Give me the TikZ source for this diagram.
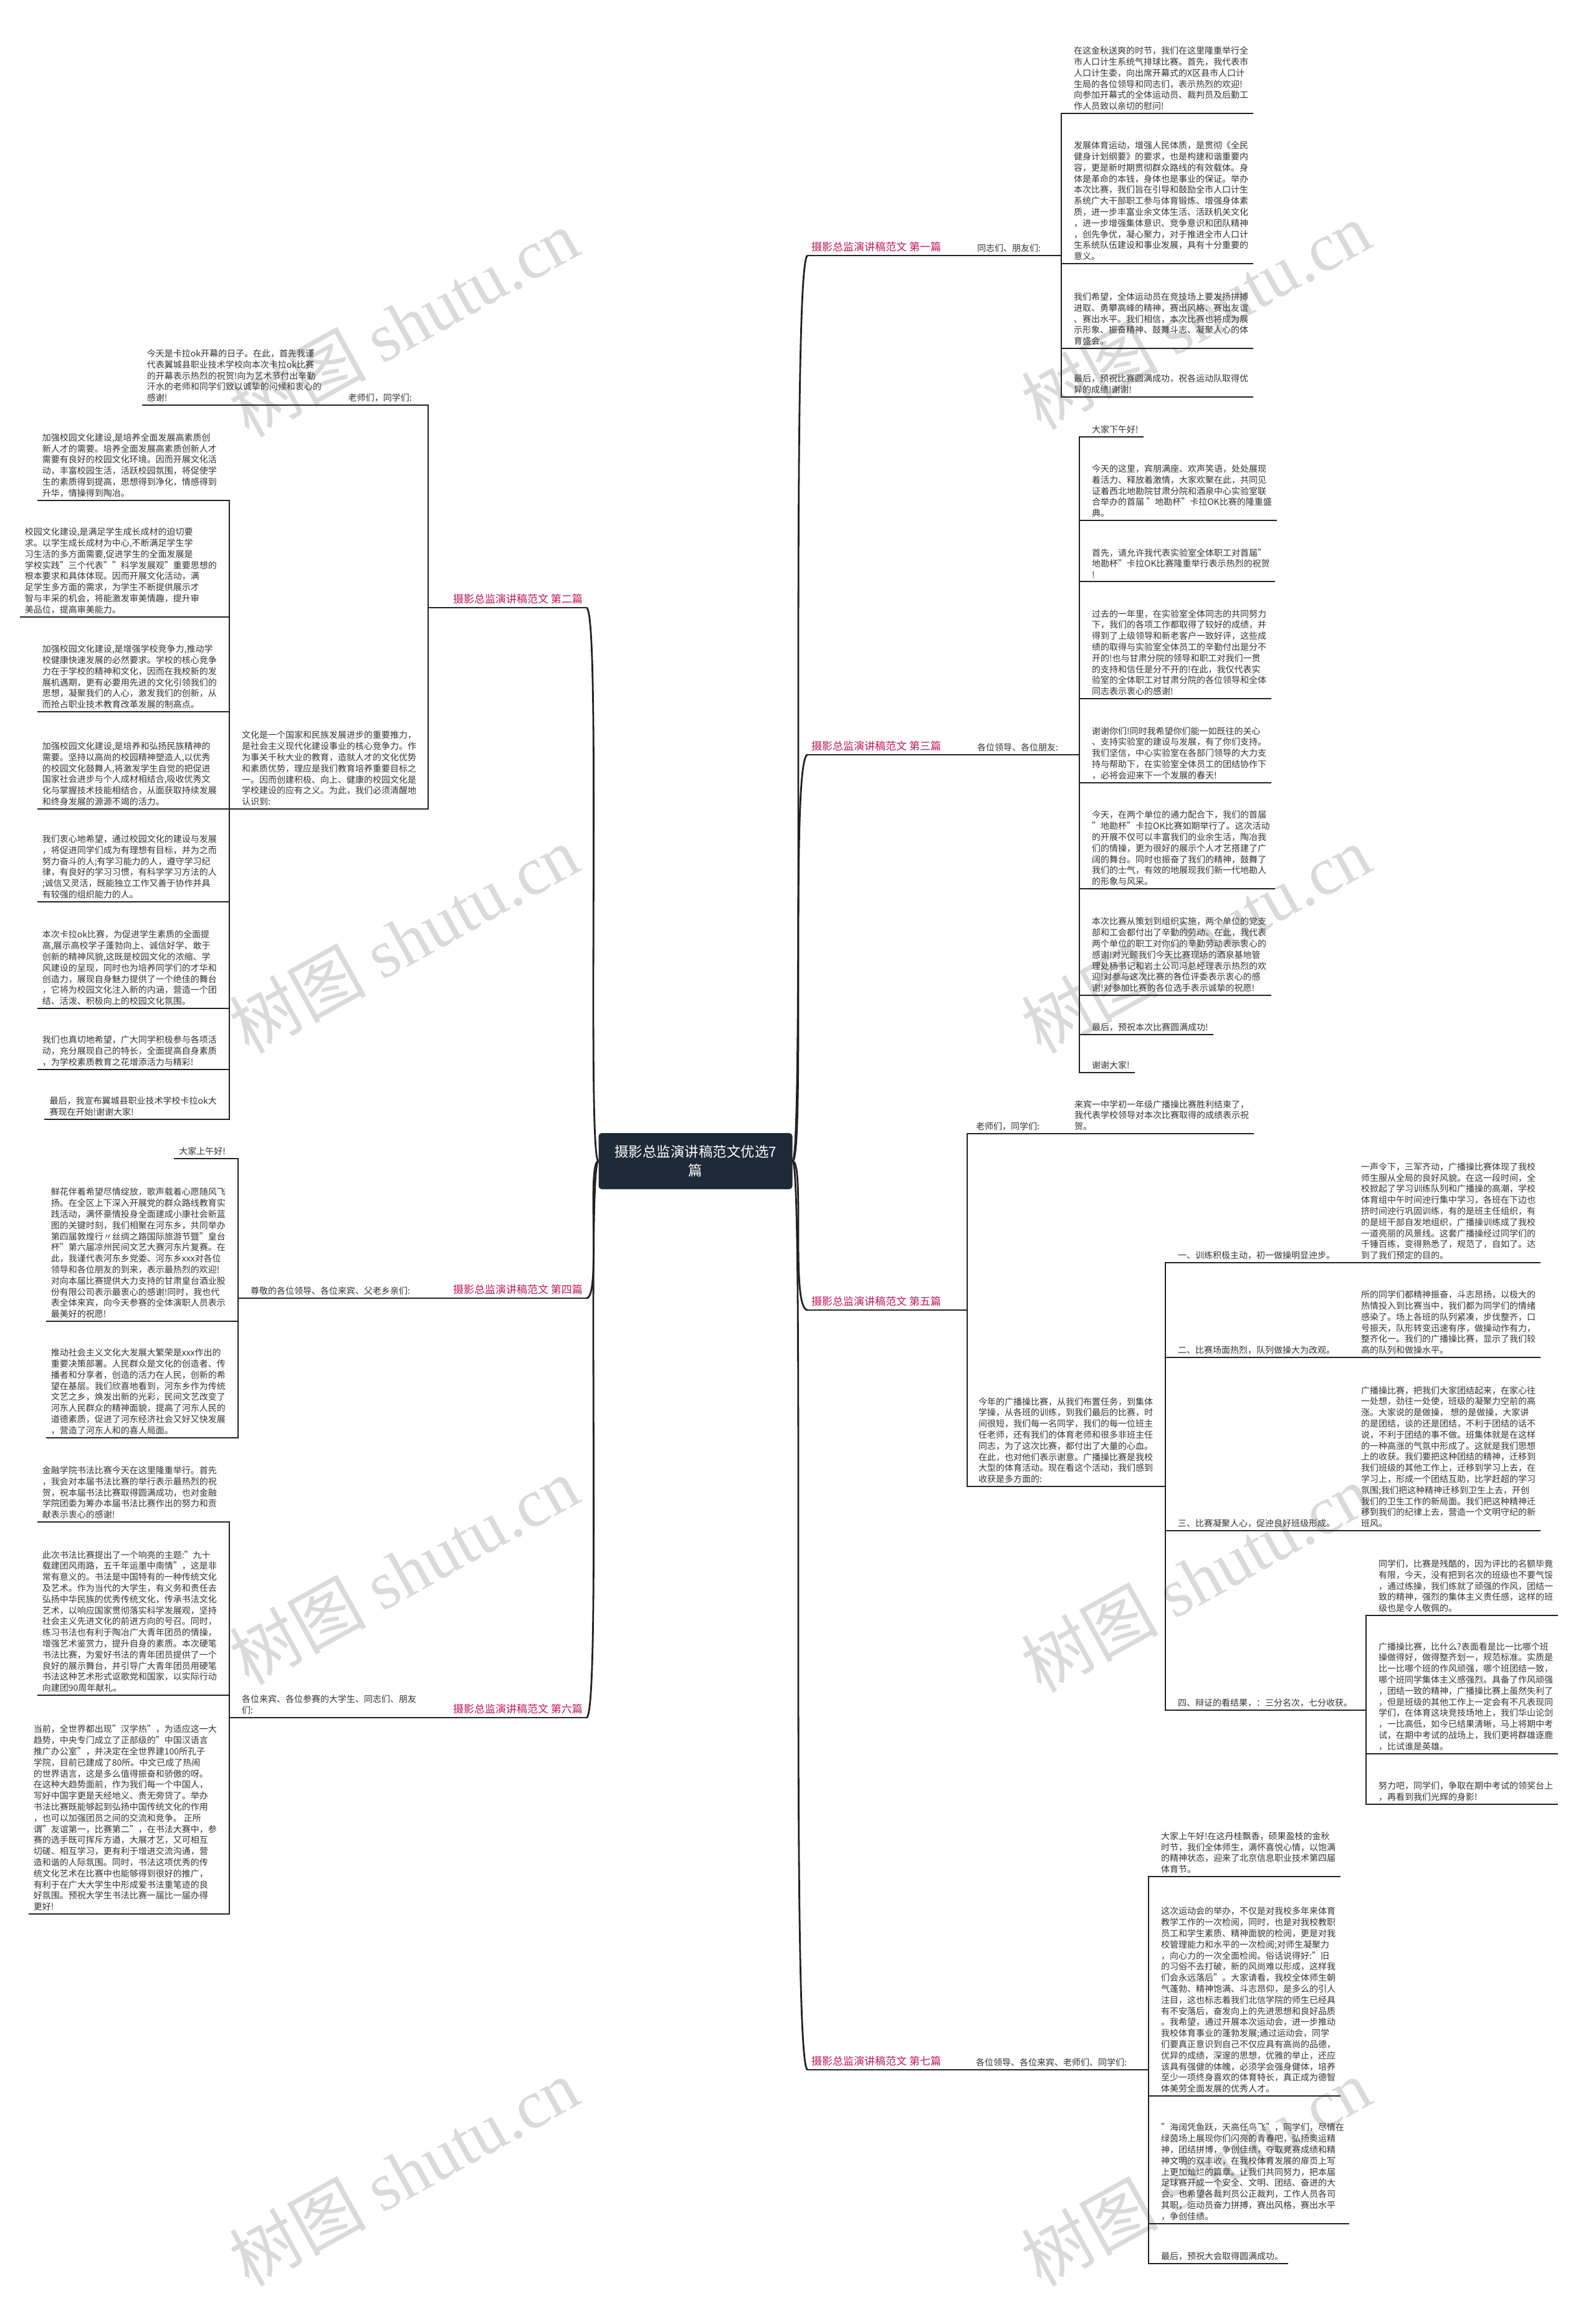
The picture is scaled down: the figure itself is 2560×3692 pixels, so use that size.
\documentclass[tikz,border=0pt]{standalone}
\usepackage{fontspec}
\setmainfont{Noto Sans CJK SC}
\newfontfamily\wmlatin{Liberation Serif}
\definecolor{txt}{HTML}{333333}
\definecolor{ln}{HTML}{222222}
\definecolor{lblc}{HTML}{C2185B}
\definecolor{ctr}{HTML}{1E2A38}
\definecolor{wmc}{HTML}{DADADA}
\newcommand\mapfs{\fontsize{14}{17.8}\selectfont}
\newcommand\maplf{\fontsize{17}{20}\selectfont}
\newcommand\mapcf{\fontsize{22.5}{30}\selectfont}
\newcommand\mapwf{\fontsize{110}{120}\selectfont}
\tikzset{
  leaf/.style={font=\mapfs, text=txt, align=left, inner xsep=8pt, inner ysep=5pt},
  lbl/.style={font=\maplf, text=lblc, inner xsep=6pt, inner ysep=6pt},
  conn/.style={draw=ln, line width=2.2pt},
  brc/.style={draw=ln, line width=2.8pt},
  uline/.style={draw=ln, line width=2.2pt},
  ctrnode/.style={fill=ctr, text=white, font=\mapcf, align=center, rounded corners=5pt, minimum width=311pt, minimum height=90pt},
  wmark/.style={text=wmc, font=\mapwf, rotate=29, inner sep=0pt},
}
\begin{document}
\begin{tikzpicture}[x=1pt, y=-1pt]
\useasboundingbox (0,0) rectangle (2560,3692);
\fill[white] (0,0) rectangle (2560,3692);
% watermarks
\foreach \wx/\wy [count=\i] in {648/518, 1919/506, 648/1507, 1919/1507, 648/2520, 1919/2532, 648/3485, 1919/3485}
  \node[wmark] (wm\i) at (\wx,\wy) {树图 {\wmlatin shutu.cn}};

% center
\node[ctrnode] (C) at (1116,1863) {摄影总监演讲稿范文优选7\\篇};

% ===== labels =====
\node[lbl, anchor=south west] (L1) at (1296,410) {摄影总监演讲稿范文 第一篇};
\node[lbl, anchor=south west] (L3) at (1296,1211) {摄影总监演讲稿范文 第三篇};
\node[lbl, anchor=south west] (L5) at (1296,2102) {摄影总监演讲稿范文 第五篇};
\node[lbl, anchor=south west] (L7) at (1296,3321) {摄影总监演讲稿范文 第七篇};
\node[lbl, anchor=south east] (L2) at (941,975) {摄影总监演讲稿范文 第二篇};
\node[lbl, anchor=south east] (L4) at (941,2083) {摄影总监演讲稿范文 第四篇};
\node[lbl, anchor=south east] (L6) at (941,2756) {摄影总监演讲稿范文 第六篇};

% ===== B1 =====
\node[leaf, anchor=south west] (p1) at (1560,410) {同志们、朋友们:};
\coordinate (j1) at (1703,410);
\node[leaf, anchor=south west] (b11) at (1715,182) {在这金秋送爽的时节，我们在这里隆重举行全\\市人口计生系统气排球比赛。首先，我代表市\\人口计生委，向出席开幕式的X区县市人口计\\生局的各位领导和同志们，表示热烈的欢迎!\\向参加开幕式的全体运动员、裁判员及后勤工\\作人员致以亲切的慰问!};
\node[leaf, anchor=south west] (b12) at (1715,423) {发展体育运动，增强人民体质，是贯彻《全民\\健身计划纲要》的要求，也是构建和谐重要内\\容，更是新时期贯彻群众路线的有效载体。身\\体是革命的本钱，身体也是事业的保证。举办\\本次比赛，我们旨在引导和鼓励全市人口计生\\系统广大干部职工参与体育锻炼、增强身体素\\质，进一步丰富业余文体生活、活跃机关文化\\，进一步增强集体意识、竞争意识和团队精神\\，创先争优，凝心聚力，对于推进全市人口计\\生系统队伍建设和事业发展，具有十分重要的\\意义。};
\node[leaf, anchor=south west] (b13) at (1715,559) {我们希望，全体运动员在竞技场上要发扬拼搏\\进取、勇攀高峰的精神，赛出风格、赛出友谊\\、赛出水平。我们相信，本次比赛也将成为展\\示形象、振奋精神、鼓舞斗志、凝聚人心的体\\育盛会。};
\node[leaf, anchor=south west] (b14) at (1715,637) {最后，预祝比赛圆满成功，祝各运动队取得优\\异的成绩!谢谢!};

% ===== B3 =====
\node[leaf, anchor=south west] (p3) at (1560,1211) {各位领导、各位朋友:};
\coordinate (j3) at (1732,1211);
\node[leaf, anchor=south west] (b31) at (1744,701) {大家下午好!};
\node[leaf, anchor=south west] (b32) at (1744,835) {今天的这里，宾朋满座、欢声笑语，处处展现\\着活力、释放着激情，大家欢聚在此，共同见\\证着西北地勘院甘肃分院和酒泉中心实验室联\\合举办的首届 "地勘杯"卡拉OK比赛的隆重盛\\典。};
\node[leaf, anchor=south west] (b33) at (1744,933) {首先，请允许我代表实验室全体职工对首届"\\地勘杯"卡拉OK比赛隆重举行表示热烈的祝贺\\!};
\node[leaf, anchor=south west] (b34) at (1744,1121) {过去的一年里，在实验室全体同志的共同努力\\下，我们的各项工作都取得了较好的成绩，并\\得到了上级领导和新老客户一致好评，这些成\\绩的取得与实验室全体员工的辛勤付出是分不\\开的!也与甘肃分院的领导和职工对我们一贯\\的支持和信任是分不开的!在此，我仅代表实\\验室的全体职工对甘肃分院的各位领导和全体\\同志表示衷心的感谢!};
\node[leaf, anchor=south west] (b35) at (1744,1256) {谢谢你们!同时我希望你们能一如既往的关心\\、支持实验室的建设与发展，有了你们支持。\\我们坚信，中心实验室在各部门领导的大力支\\持与帮助下，在实验室全体员工的团结协作下\\，必将会迎来下一个发展的春天!};
\node[leaf, anchor=south west] (b36) at (1744,1426) {今天，在两个单位的通力配合下，我们的首届\\"地勘杯"卡拉OK比赛如期举行了。这次活动\\的开展不仅可以丰富我们的业余生活，陶冶我\\们的情操，更为很好的展示个人才艺搭建了广\\阔的舞台。同时也振奋了我们的精神，鼓舞了\\我们的士气，有效的地展现我们新一代地勘人\\的形象与风采。};
\node[leaf, anchor=south west] (b37) at (1744,1597) {本次比赛从策划到组织实施，两个单位的党支\\部和工会都付出了辛勤的劳动。在此，我代表\\两个单位的职工对你们的辛勤劳动表示衷心的\\感谢!对光顾我们今天比赛现场的酒泉基地管\\理处杨书记和岩土公司冯总经理表示热烈的欢\\迎!对参与这次比赛的各位评委表示衷心的感\\谢!对参加比赛的各位选手表示诚挚的祝愿!};
\node[leaf, anchor=south west] (b38) at (1744,1660) {最后，预祝本次比赛圆满成功!};
\node[leaf, anchor=south west] (b39) at (1744,1721) {谢谢大家!};

% ===== B5 =====
\coordinate (j5) at (1552,2102);
\node[leaf, anchor=south west] (n5a) at (1558,1819) {老师们，同学们:};
\node[leaf, anchor=south west] (n5a1) at (1716,1819) {来宾一中学初一年级广播操比赛胜利结束了，\\我代表学校领导对本次比赛取得的成绩表示祝\\贺。};
\node[leaf, anchor=south west] (n5b) at (1562,2385) {今年的广播操比赛，从我们布置任务，到集体\\学操，从各班的训练，到我们最后的比赛，时\\间很短，我们每一名同学，我们的每一位班主\\任老师，还有我们的体育老师和很多非班主任\\同志，为了这次比赛，都付出了大量的心血。\\在此，也对他们表示谢意。广播操比赛是我校\\大型的体育活动。现在看这个活动，我们感到\\收获是多方面的:};
\coordinate (j5b) at (1870,2385);
\node[leaf, anchor=south west] (s1) at (1882,2026) {一、训练积极主动，初一做操明显迚步。};
\node[leaf, anchor=south west] (s1c) at (2176,2026) {一声令下，三军齐动，广播操比赛体现了我校\\师生服从全局的良好风貌。在这一段时间，全\\校掀起了学习训练队列和广播操的高潮，学校\\体育组中午时间迚行集中学习，各班在下边也\\挤时间迚行巩固训练，有的是班主任组织，有\\的是班干部自发地组织，广播操训练成了我校\\一道亮丽的风景线。这套广播操经过同学们的\\千锤百练，变得熟悉了，规范了，自如了。达\\到了我们预定的目的。};
\node[leaf, anchor=south west] (s2) at (1882,2178) {二、比赛场面热烈，队列做操大为改观。};
\node[leaf, anchor=south west] (s2c) at (2176,2178) {所的同学们都精神振奋，斗志昂扬，以极大的\\热情投入到比赛当中，我们都为同学们的情绪\\感染了。场上各班的队列紧凑，步伐整齐，口\\号振天，队形转变迅速有序，做操动作有力，\\整齐化一。我们的广播操比赛，显示了我们较\\高的队列和做操水平。};
\node[leaf, anchor=south west] (s3) at (1882,2456) {三、比赛凝聚人心，促迚良好班级形成。};
\node[leaf, anchor=south west] (s3c) at (2176,2456) {广播操比赛，把我们大家团结起来，在家心往\\一处想，劲往一处使，班级的凝聚力空前的高\\涨。大家说的是做操， 想的是做操，大家讲\\的是团结，谈的还是团结，不利于团结的话不\\说，不利于团结的事不做。班集体就是在这样\\的一种高涨的气氛中形成了。这就是我们思想\\上的收获。我们要把这种团结的精神，迁移到\\我们班级的其他工作上，迁移到学习上去，在\\学习上，形成一个团结互助，比学赶超的学习\\氛围;我们把这种精神迁移到卫生上去，开创\\我们的卫生工作的新局面。我们把这种精神迁\\移到我们的纪律上去，营造一个文明守纪的新\\班风。};
\node[leaf, anchor=south west] (s4) at (1882,2744) {四、辩证的看结果，：三分名次，七分收获。};
\coordinate (j5c) at (2192,2744);
\node[leaf, anchor=south west] (s4a) at (2204,2592) {同学们，比赛是残酷的，因为评比的名额毕竟\\有限，今天，没有把到名次的班级也不要气馁\\，通过练操，我们练就了顽强的作风，团结一\\致的精神，强烈的集体主义责任感，这样的班\\级也是令人敬佩的。};
\node[leaf, anchor=south west] (s4b) at (2204,2814) {广播操比赛，比什么?表面看是比一比哪个班\\操做得好，做得整齐划一，规范标准。实质是\\比一比哪个班的作风顽强，哪个班团结一致，\\哪个班同学集体主义感强烈。具备了作风顽强\\，团结一致的精神，广播操比赛上虽然失利了\\，但是班级的其他工作上一定会有不凡表现同\\学们，在体育这块竞技场地上，我们华山论剑\\，一比高低，如今已结果清晰，马上将期中考\\试，在期中考试的战场上，我们更将群雄逐鹿\\，比试谁是英雄。};
\node[leaf, anchor=south west] (s4c) at (2204,2895) {努力吧，同学们，争取在期中考试的领奖台上\\，再看到我们光辉的身影!};

% ===== B7 =====
\node[leaf, anchor=south west] (p7) at (1558,3321) {各位领导、各位来宾、老师们、同学们:};
\coordinate (j7) at (1843,3321);
\node[leaf, anchor=south west] (b71) at (1855,3011) {大家上午好!在这丹桂飘香，硕果盈枝的金秋\\时节，我们全体师生，满怀喜悦心情，以饱满\\的精神状态，迎来了北京信息职业技术第四届\\体育节。};
\node[leaf, anchor=south west] (b72) at (1855,3363) {这次运动会的举办，不仅是对我校多年来体育\\教学工作的一次检阅，同时，也是对我校教职\\员工和学生素质、精神面貌的检阅，更是对我\\校管理能力和水平的一次检阅;对师生凝聚力\\，向心力的一次全面检阅。俗话说得好:"旧\\的习俗不去打破，新的风尚难以形成，这样我\\们会永远落后"。大家请看，我校全体师生朝\\气蓬勃、精神饱满、斗志昂仰，是多么的引人\\注目，这也标志着我们北信学院的师生已经具\\有不安落后，奋发向上的先进思想和良好品质\\。我希望，通过开展本次运动会，进一步推动\\我校体育事业的蓬勃发展;通过运动会，同学\\们要真正意识到自己不仅应具有高尚的品德，\\优异的成绩，深邃的思想，优雅的举止，还应\\该具有强健的体魄，必须学会强身健体，培养\\至少一项终身喜欢的体育特长，真正成为德智\\体美劳全面发展的优秀人才。};
\node[leaf, anchor=south west] (b73) at (1855,3568) {"海阔凭鱼跃，天高任鸟飞"，同学们，尽情在\\绿茵场上展现你们闪亮的青春吧，弘扬奥运精\\神，团结拼博，争创佳绩，夺取竞赛成绩和精\\神文明的双丰收，在我校体育发展的扉页上写\\上更加灿烂的篇章。让我们共同努力，把本届\\足球赛开成一个安全、文明、团结、奋进的大\\会。也希望各裁判员公正裁判，工作人员各司\\其职，运动员奋力拼搏，赛出风格，赛出水平\\，争创佳绩。};
\node[leaf, anchor=south west] (b74) at (1855,3632) {最后，预祝大会取得圆满成功。};

% ===== B2 =====
\coordinate (j2) at (687,975);
\node[leaf, anchor=south east] (n2a) at (669,650) {老师们，同学们:};
\node[leaf, anchor=south east] (n2a1) at (524,650) {今天是卡拉ok开幕的日子。在此，首先我谨\\代表翼城县职业技术学校向本次卡拉ok比赛\\的开幕表示热烈的祝贺!向为艺术节付出辛勤\\汗水的老师和同学们致以诚挚的问候和衷心的\\感谢!};
\node[leaf, anchor=south west] (n2b) at (380,1298) {文化是一个国家和民族发展进步的重要推力，\\是社会主义现代化建设事业的核心竞争力。作\\为事关千秋大业的教育，造就人才的文化优势\\和素质优势，理应是我们教育培养重要目标之\\一。因而创建积极、向上、健康的校园文化是\\学校建设的应有之义。为此，我们必须清醒地\\认识到:};
\coordinate (j2b) at (368,1298);
\node[leaf, anchor=south east] (b21) at (356,803) {加强校园文化建设,是培养全面发展高素质创\\新人才的需要。培养全面发展高素质创新人才\\需要有良好的校园文化环境。因而开展文化活\\动，丰富校园生活，活跃校园氛围，将促使学\\生的素质得到提高，思想得到净化，情感得到\\升华，情操得到陶冶。};
\node[leaf, anchor=south east] (b22) at (356,990) {校园文化建设,是满足学生成长成材的迫切要\\求。以学生成长成材为中心,不断满足学生学\\习生活的多方面需要,促进学生的全面发展是\\学校实践"三个代表""科学发展观"重要思想的\\根本要求和具体体现。因而开展文化活动，满\\足学生多方面的需求，为学生不断提供展示才\\智与丰采的机会，将能激发审美情趣，提升审\\美品位，提高审美能力。};
\node[leaf, anchor=south east] (b23) at (356,1142) {加强校园文化建设,是增强学校竞争力,推动学\\校健康快速发展的必然要求。学校的核心竞争\\力在于学校的精神和文化，因而在我校新的发\\展机遇期，更有必要用先进的文化引领我们的\\思想，凝聚我们的人心，激发我们的创新，从\\而抢占职业技术教育改革发展的制高点。};
\node[leaf, anchor=south east] (b24) at (356,1298) {加强校园文化建设,是培养和弘扬民族精神的\\需要。坚持以高尚的校园精神塑造人,以优秀\\的校园文化鼓舞人,将激发学生自觉的把促进\\国家社会进步与个人成材相结合,吸收优秀文\\化与掌握技术技能相结合，从面获取持续发展\\和终身发展的源源不竭的活力。};
\node[leaf, anchor=south east] (b25) at (356,1447) {我们衷心地希望，通过校园文化的建设与发展\\，将促进同学们成为有理想有目标，并为之而\\努力奋斗的人;有学习能力的人，遵守学习纪\\律，有良好的学习习惯，有科学学习方法的人\\;诚信又灵活，既能独立工作又善于协作并具\\有较强的组织能力的人。};
\node[leaf, anchor=south east] (b26) at (356,1618) {本次卡拉ok比赛，为促进学生素质的全面提\\高,展示高校学子蓬勃向上、诚信好学、敢于\\创新的精神风貌,这既是校园文化的浓缩、学\\风建设的呈现，同时也为培养同学们的才华和\\创造力，展现自身魅力提供了一个绝佳的舞台\\，它将为校园文化注入新的内涵，营造一个团\\结、活泼、积极向上的校园文化氛围。};
\node[leaf, anchor=south east] (b27) at (356,1716) {我们也真切地希望，广大同学积极参与各项活\\动，充分展现自己的特长，全面提高自身素质\\，为学校素质教育之花增添活力与精彩!};
\node[leaf, anchor=south east] (b28) at (356,1796) {最后，我宣布翼城县职业技术学校卡拉ok大\\赛现在开始!谢谢大家!};

% ===== B4 =====
\node[leaf, anchor=south west] (p4) at (394,2083) {尊敬的各位领导、各位来宾、父老乡亲们:};
\coordinate (j4) at (382,2083);
\node[leaf, anchor=south east] (b41) at (370,1859) {大家上午好!};
\node[leaf, anchor=south east] (b42) at (370,2120) {鲜花伴着希望尽情绽放，歌声载着心愿随风飞\\扬。在全区上下深入开展党的群众路线教育实\\践活动，满怀豪情投身全面建成小康社会新蓝\\图的关键时刻，我们相聚在河东乡，共同举办\\第四届敦煌行〃丝绸之路国际旅游节暨"皇台\\杯"第六届凉州民间文艺大赛河东片复赛。在\\此，我谨代表河东乡党委、河东乡xxx对各位\\领导和各位朋友的到来，表示最热烈的欢迎!\\对向本届比赛提供大力支持的甘肃皇台酒业股\\份有限公司表示最衷心的感谢!同时，我也代\\表全体来宾，向今天参赛的全体演职人员表示\\最美好的祝愿!};
\node[leaf, anchor=south east] (b43) at (370,2307) {推动社会主义文化大发展大繁荣是xxx作出的\\重要决策部署。人民群众是文化的创造者、传\\播者和分享者，创造的活力在人民，创新的希\\望在基层。我们欣喜地看到，河东乡作为传统\\文艺之乡，焕发出新的光彩，民间文艺改变了\\河东人民群众的精神面貌，提高了河东人民的\\道德素质，促进了河东经济社会又好又快发展\\，营造了河东人和的喜人局面。};

% ===== B6 =====
\node[leaf, anchor=south west] (p6) at (380,2756) {各位来宾、各位参赛的大学生、同志们、朋友\\们:};
\coordinate (j6) at (368,2756);
\node[leaf, anchor=south east] (b61) at (356,2442) {金融学院书法比赛今天在这里隆重举行。首先\\，我会对本届书法比赛的举行表示最热烈的祝\\贺，祝本届书法比赛取得圆满成功，也对金融\\学院团委为筹办本届书法比赛作出的努力和贡\\献表示衷心的感谢!};
\node[leaf, anchor=south east] (b62) at (356,2720) {此次书法比赛提出了一个响亮的主题:"九十\\载建团风雨路，五千年运墨中南情"，这是非\\常有意义的。书法是中国特有的一种传统文化\\及艺术。作为当代的大学生，有义务和责任去\\弘扬中华民族的优秀传统文化，传承书法文化\\艺术，以响应国家贯彻落实科学发展观，坚持\\社会主义先进文化的前进方向的号召。同时，\\练习书法也有利于陶冶广大青年团员的情操，\\增强艺术鉴赏力，提升自身的素质。本次硬笔\\书法比赛，为爱好书法的青年团员提供了一个\\良好的展示舞台，并引导广大青年团员用硬笔\\书法这种艺术形式讴歌党和国家，以实际行动\\向建团90周年献礼。};
\node[leaf, anchor=south east] (b63) at (356,3071) {当前，全世界都出现"汉学热"，为适应这一大\\趋势，中央专门成立了正部级的"中国汉语言\\推广办公室"，并决定在全世界建100所孔子\\学院，目前已建成了80所。中文已成了热闹\\的世界语言，这是多么值得振奋和骄傲的呀。\\在这种大趋势面前，作为我们每一个中国人，\\写好中国字更是天经地义、责无旁贷了。举办\\书法比赛既能够起到弘扬中国传统文化的作用\\，也可以加强团员之间的交流和竞争。 正所\\谓"友谊第一，比赛第二"，在书法大赛中，参\\赛的选手既可挥斥方遒，大展才艺，又可相互\\切磋、相互学习，更有利于增进交流沟通，营\\造和谐的人际氛围。同时，书法这项优秀的传\\统文化艺术在比赛中也能够得到很好的推广，\\有利于在广大大学生中形成爱书法重笔迹的良\\好氛围。预祝大学生书法比赛一届比一届办得\\更好!};

% ===== underlines =====
\foreach \n in {L1,L2,L3,L4,L5,L6,L7,p1,b11,b12,b13,b14,p3,b31,b32,b33,b34,b35,b36,b37,b38,b39,n5a,n5a1,n5b,s1,s1c,s2,s2c,s3,s3c,s4,s4a,s4b,s4c,p7,b71,b72,b73,b74,n2a,n2a1,n2b,b21,b22,b23,b24,b25,b26,b27,b28,p4,b41,b42,b43,p6,b61,b62,b63}
  \draw[uline] (\n.south west) -- (\n.south east);

% ===== connectors =====
% right side
\draw[conn] (L1.south east) -- (p1.south west);
\draw[conn] (p1.south east) -- (j1);
\foreach \c in {b11,b12,b13,b14} \draw[conn] (j1) |- (\c.south west);
\draw[conn] (L3.south east) -- (p3.south west);
\draw[conn] (p3.south east) -- (j3);
\foreach \c in {b31,b32,b33,b34,b35,b36,b37,b38,b39} \draw[conn] (j3) |- (\c.south west);
\draw[conn] (L5.south east) -- (j5);
\foreach \c in {n5a,n5b} \draw[conn] (j5) |- (\c.south west);
\draw[conn] (n5a.south east) -- (n5a1.south west);
\draw[conn] (n5b.south east) -- (j5b);
\foreach \c in {s1,s2,s3,s4} \draw[conn] (j5b) |- (\c.south west);
\draw[conn] (s1.south east) -- (s1c.south west);
\draw[conn] (s2.south east) -- (s2c.south west);
\draw[conn] (s3.south east) -- (s3c.south west);
\draw[conn] (s4.south east) -- (j5c);
\foreach \c in {s4a,s4b,s4c} \draw[conn] (j5c) |- (\c.south west);
\draw[conn] (L7.south east) -- (p7.south west);
\draw[conn] (p7.south east) -- (j7);
\foreach \c in {b71,b72,b73,b74} \draw[conn] (j7) |- (\c.south west);
% left side
\draw[conn] (L2.south west) -- (j2);
\foreach \c in {n2a,n2b} \draw[conn] (j2) |- (\c.south east);
\draw[conn] (n2a.south west) -- (n2a1.south east);
\draw[conn] (n2b.south west) -- (j2b);
\foreach \c in {b21,b22,b23,b24,b25,b26,b27,b28} \draw[conn] (j2b) |- (\c.south east);
\draw[conn] (L4.south west) -- (p4.south east);
\draw[conn] (p4.south west) -- (j4);
\foreach \c in {b41,b42,b43} \draw[conn] (j4) |- (\c.south east);
\draw[conn] (L6.south west) -- (p6.south east);
\draw[conn] (p6.south west) -- (j6);
\foreach \c in {b61,b62,b63} \draw[conn] (j6) |- (\c.south east);

% ===== main branches =====
\draw[brc] (C.east) .. controls (1292,1863) and (1268,410) .. (L1.south west);
\draw[brc] (C.east) .. controls (1292,1863) and (1268,1211) .. (L3.south west);
\draw[brc] (C.east) .. controls (1292,1863) and (1268,2102) .. (L5.south west);
\draw[brc] (C.east) .. controls (1292,1863) and (1268,3321) .. (L7.south west);
\draw[brc] (C.west) .. controls (941,1863) and (965,975) .. (L2.south east);
\draw[brc] (C.west) .. controls (941,1863) and (965,2083) .. (L4.south east);
\draw[brc] (C.west) .. controls (941,1863) and (965,2756) .. (L6.south east);
\end{tikzpicture}
\end{document}
